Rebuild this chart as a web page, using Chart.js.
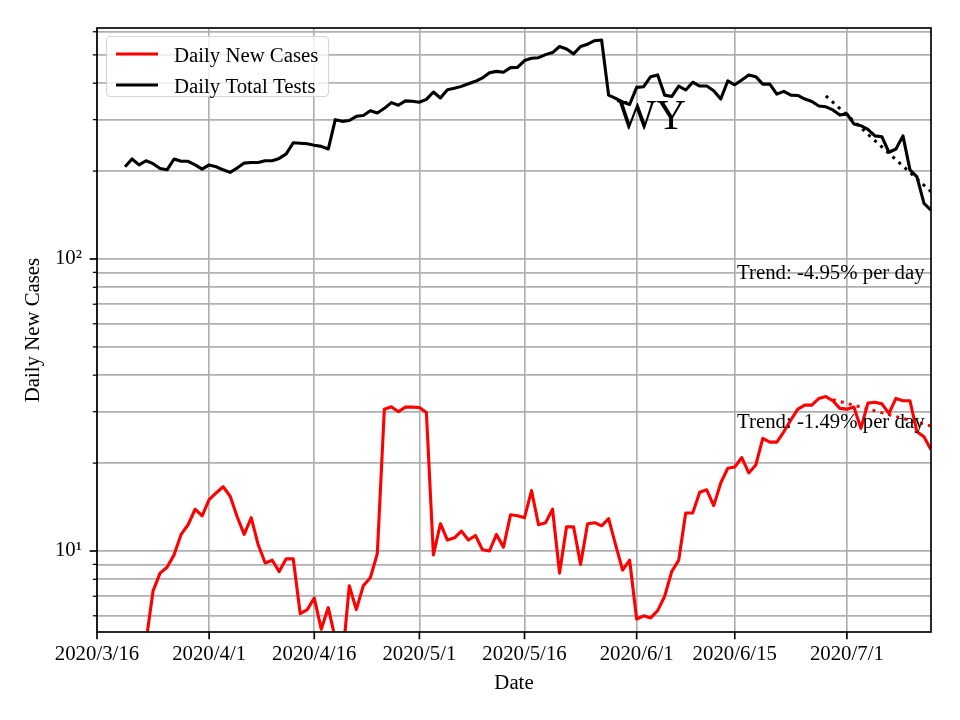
<!DOCTYPE html>
<html>
<head>
<meta charset="utf-8">
<title>WY daily new cases</title>
<script src="https://cdn.jsdelivr.net/npm/chart.js@4/dist/chart.umd.min.js"></script>
<style>
    html, body { margin: 0; padding: 0; background: #fff; }
    #chart { display: block; }
</style>
</head>
<body>
<canvas id="chart" width="960" height="720"></canvas>
<script>
// x 축은 2020/3/16 부터의 일수
const xTickDays = [0, 16, 31, 46, 61, 77, 91, 107];
const xTickLabels = ['2020/3/16', '2020/4/1', '2020/4/16', '2020/5/1', '2020/5/16', '2020/6/1', '2020/6/15', '2020/7/1'];
const yTicks = [6, 7, 8, 9, 10, 20, 30, 40, 50, 60, 70, 80, 90, 100, 200, 300, 400, 500, 600];
const yMajor = [10, 100];
const yMajorLabels = ['10¹', '10²'];

// 검사 수 (3/20 부터)
const testsFirstDay = 4;
const dailyTests = [
    207, 220, 210, 217, 212, 204, 202, 220, 216, 216, 210, 203, 210, 207, 202, 198, 205, 213, 214, 214,
    217, 217, 221, 229, 250, 249, 248, 245, 243, 238, 300, 296, 298, 308, 310, 322, 316, 328,
    343, 336, 348, 347, 344, 352, 373, 356, 380, 384, 390, 398, 406, 417, 434, 439, 436, 452, 453, 478,
    487, 489, 501, 509, 534, 524, 504, 534, 544, 559, 562,
    364, 355, 345, 338, 387, 389, 421, 427, 364, 360,
    391, 379, 403, 391, 391, 377, 353, 407, 395, 410, 427, 421, 397, 397, 367, 375, 364, 363, 353, 346,
    334, 332, 324, 311, 314, 290, 286, 278, 264, 262, 232, 238, 264, 202, 191, 155, 147
];

// 신규 확진 (3/23 부터)
const casesFirstDay = 7;
const dailyCases = [
    4.9, 7.3, 8.4, 8.8, 9.7, 11.4, 12.3, 13.9, 13.2, 15.0, 15.8, 16.6, 15.4, 13.1, 11.4, 13.0, 10.5, 9.1, 9.3, 8.5,
    9.4, 9.4, 6.1, 6.3, 6.9, 5.4, 6.4, 5.0, 4.2, 7.6, 6.3, 7.6, 8.1, 9.8,
    30.6, 31.2, 30.0, 31.1, 31.1, 31.0, 29.8,
    9.7, 12.4, 10.9, 11.1, 11.7, 10.9, 11.3, 10.1, 10.0, 11.4, 10.3, 13.3, 13.2, 13.0, 16.1, 12.3, 12.5, 13.9,
    8.4, 12.1, 12.1, 9.0, 12.4, 12.5, 12.2, 12.9, 10.5, 8.6, 9.3,
    5.85, 6.0, 5.9, 6.25, 7.0, 8.5, 9.3, 13.5, 13.5, 15.9, 16.2, 14.3, 17.1, 19.2, 19.4, 20.9, 18.5, 19.7,
    24.3, 23.6, 23.6, 25.6, 28.1, 30.6, 31.6, 31.6, 33.3, 33.8, 32.7, 30.8, 30.6, 31.1, 26.3, 32.1, 32.3, 31.9,
    29.6, 33.3, 32.7, 32.7, 25.6, 24.6, 22.2
];

// 추세선 (그림에서 읽은 시작/끝 값)
const testsTrendDays = [104, 119];
const testsTrendValues = [362, 170];
const casesTrendDays = [105, 119];
const casesTrendValues = [33.0, 26.8];

const SERIF = "'Liberation Serif', 'Times New Roman', serif";
const FONT_PX = 20.8;
const LINE_W = 3.1;

function toPoints(firstDay, values) {
    return values.map((v, i) => ({ x: firstDay + i, y: v }));
}
function pairPoints(days, values) {
    return days.map((d, i) => ({ x: d, y: values[i] }));
}

// 축 테두리, 눈금, 범례, 주석
const decorPlugin = {
    id: 'decor',
    afterDatasetsDraw(chart) {
        const { ctx } = chart;
        ctx.save();
        ctx.fillStyle = '#000';
        ctx.textBaseline = 'alphabetic';
        ctx.textAlign = 'center';
        ctx.font = `41.6px ${SERIF}`;
        ctx.fillText('WY', 651.5, 128.5);

        ctx.textAlign = 'left';
        ctx.font = `${FONT_PX}px ${SERIF}`;
        ctx.fillText('Trend: -4.95% per day', 737, 279);
        ctx.fillText('Trend: -1.49% per day', 737, 427.5);
        ctx.restore();
    },
    afterDraw(chart) {
        const { ctx, chartArea: a, scales: { x, y } } = chart;
        ctx.save();

        // 눈금
        ctx.strokeStyle = '#000';
        ctx.lineWidth = 1.67;
        xTickDays.forEach(d => {
            const px = x.getPixelForValue(d);
            ctx.beginPath();
            ctx.moveTo(px, a.bottom);
            ctx.lineTo(px, a.bottom + 7.3);
            ctx.stroke();
        });
        yTicks.forEach(v => {
            const py = y.getPixelForValue(v);
            const major = yMajor.includes(v);
            ctx.lineWidth = major ? 1.67 : 1.25;
            ctx.beginPath();
            ctx.moveTo(a.left - (major ? 7.3 : 4.2), py);
            ctx.lineTo(a.left, py);
            ctx.stroke();
        });

        // 테두리
        ctx.lineWidth = 1.67;
        ctx.strokeRect(a.left, a.top, a.right - a.left, a.bottom - a.top);

        // 범례
        const lx = 106.5, ly = 36.5, lw = 222, lh = 60, r = 4;
        ctx.beginPath();
        ctx.moveTo(lx + r, ly);
        ctx.arcTo(lx + lw, ly, lx + lw, ly + lh, r);
        ctx.arcTo(lx + lw, ly + lh, lx, ly + lh, r);
        ctx.arcTo(lx, ly + lh, lx, ly, r);
        ctx.arcTo(lx, ly, lx + lw, ly, r);
        ctx.closePath();
        ctx.fillStyle = 'rgba(255,255,255,0.8)';
        ctx.fill();
        ctx.strokeStyle = 'rgba(204,204,204,0.8)';
        ctx.lineWidth = 1.2;
        ctx.stroke();

        ctx.font = `${FONT_PX}px ${SERIF}`;
        ctx.textAlign = 'left';
        ctx.textBaseline = 'alphabetic';
        chart.data.datasets.slice(0, 2).forEach((ds, i) => {
            const rowY = 54 + i * 31;
            ctx.strokeStyle = ds.borderColor;
            ctx.lineWidth = LINE_W;
            ctx.beginPath();
            ctx.moveTo(116, rowY);
            ctx.lineTo(158, rowY);
            ctx.stroke();
            ctx.fillStyle = '#000';
            ctx.fillText(ds.label, 174, rowY + 7.6);
        });
        ctx.restore();
    }
};

const ctx = document.getElementById('chart').getContext('2d');
new Chart(ctx, {
    type: 'line',
    data: {
        datasets: [
            {
                label: 'Daily New Cases',
                data: toPoints(casesFirstDay, dailyCases),
                borderColor: '#ff0000',
                borderWidth: LINE_W,
                order: 1
            },
            {
                label: 'Daily Total Tests',
                data: toPoints(testsFirstDay, dailyTests),
                borderColor: '#000000',
                borderWidth: LINE_W,
                order: 1
            },
            {
                label: 'tests trend',
                data: pairPoints(testsTrendDays, testsTrendValues),
                borderColor: '#000000',
                borderWidth: 3,
                borderDash: [3, 5.2],
                borderCapStyle: 'butt',
                order: 0
            },
            {
                label: 'cases trend',
                data: pairPoints(casesTrendDays, casesTrendValues),
                borderColor: '#ff0000',
                borderWidth: 3,
                borderDash: [3, 5.2],
                borderCapStyle: 'butt',
                order: 0
            }
        ]
    },
    options: {
        responsive: false,
        animation: false,
        clip: 0,
        layout: { padding: { top: 28, right: 29, left: 0, bottom: 0 } },
        elements: {
            point: { radius: 0, hoverRadius: 0 },
            line: { tension: 0, borderJoinStyle: 'round', fill: false }
        },
        plugins: {
            legend: { display: false },
            tooltip: { enabled: false }
        },
        scales: {
            x: {
                type: 'linear',
                min: 0,
                max: 119,
                afterBuildTicks: scale => { scale.ticks = xTickDays.map(v => ({ value: v })); },
                afterFit: scale => { scale.height = 88; },
                ticks: {
                    autoSkip: false,
                    maxRotation: 0,
                    padding: 10.5,
                    color: '#000',
                    font: { family: SERIF, size: FONT_PX },
                    callback: v => xTickLabels[xTickDays.indexOf(v)]
                },
                grid: { color: '#b0b0b0', lineWidth: 1.67, drawTicks: false },
                border: { display: false },
                title: {
                    display: true,
                    text: 'Date',
                    color: '#000',
                    font: { family: SERIF, size: FONT_PX },
                    padding: { top: 0, bottom: 23.5 }
                }
            },
            y: {
                type: 'logarithmic',
                min: 5.28,
                max: 618,
                afterBuildTicks: scale => { scale.ticks = yTicks.map(v => ({ value: v, major: yMajor.includes(v) })); },
                afterFit: scale => { scale.width = 97; },
                ticks: {
                    autoSkip: false,
                    padding: 15,
                    color: '#000',
                    font: { family: SERIF, size: FONT_PX },
                    callback: v => {
                        const i = yMajor.indexOf(v);
                        return i >= 0 ? yMajorLabels[i] : '';
                    }
                },
                grid: { color: '#b0b0b0', lineWidth: 1.67, drawTicks: false },
                border: { display: false },
                title: {
                    display: true,
                    text: 'Daily New Cases',
                    color: '#000',
                    font: { family: SERIF, size: FONT_PX },
                    padding: { top: 21, bottom: 0 }
                }
            }
        }
    },
    plugins: [decorPlugin]
});
</script>
</body>
</html>
